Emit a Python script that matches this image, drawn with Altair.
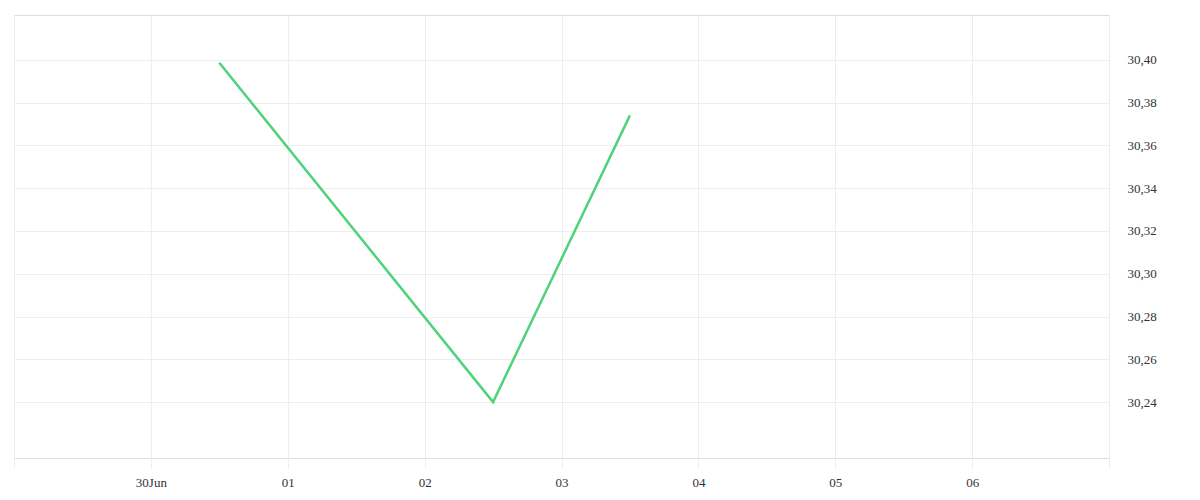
import altair as alt
import pandas as pd

dates = ["2025-06-30T12:00:00", "2025-07-02T12:00:00", "2025-07-03T12:00:00"]
values = [30.3986, 30.240, 30.374]

df = pd.DataFrame({"date": dates, "value": values})

GRID = "#eeeeee"
TEXT = "#333333"
FONT = "'Liberation Serif', 'Times New Roman', serif"

tick_days = [(6, 29), (6, 30), (7, 1), (7, 2), (7, 3), (7, 4), (7, 5), (7, 6), (7, 7)]
x_ticks = [alt.DateTime(year=2025, month=m, date=d) for m, d in tick_days]

chart = (
    alt.Chart(df)
    .mark_line(color="#4ed37b", strokeWidth=2.5)
    .encode(
        x=alt.X(
            "date:T",
            scale=alt.Scale(
                domain=[
                    alt.DateTime(year=2025, month=6, date=29),
                    alt.DateTime(year=2025, month=7, date=7),
                ]
            ),
            axis=alt.Axis(
                title=None,
                values=x_ticks,
                labelExpr="date(datum.value) == 30 ? '30Jun' : ((date(datum.value) == 29 || date(datum.value) == 7) ? '' : timeFormat(datum.value, '%d'))",
                domain=False,
                ticks=True,
                tickColor=GRID,
                tickSize=10,
                gridColor=GRID,
                labelPadding=8,
                labelFont=FONT,
                labelFontSize=13,
                labelColor=TEXT,
            ),
        ),
        y=alt.Y(
            "value:Q",
            scale=alt.Scale(domain=[30.2139, 30.4209], nice=False, zero=False),
            axis=alt.Axis(
                title=None,
                orient="right",
                values=[30.24, 30.26, 30.28, 30.30, 30.32, 30.34, 30.36, 30.38, 30.40],
                labelExpr="replace(format(datum.value, '.2f'), '.', ',')",
                domain=False,
                ticks=False,
                tickSize=0,
                gridColor=GRID,
                labelPadding=18,
                labelFont=FONT,
                labelFontSize=13,
                labelColor=TEXT,
            ),
        ),
    )
    .properties(
        width=1095,
        height=443,
        padding={"left": 5, "top": 7, "right": 5, "bottom": 5},
    )
    .configure_view(stroke=GRID)
    .configure(background="white")
)

chart.save("out.html", embed_options={"renderer": "svg", "actions": False})
